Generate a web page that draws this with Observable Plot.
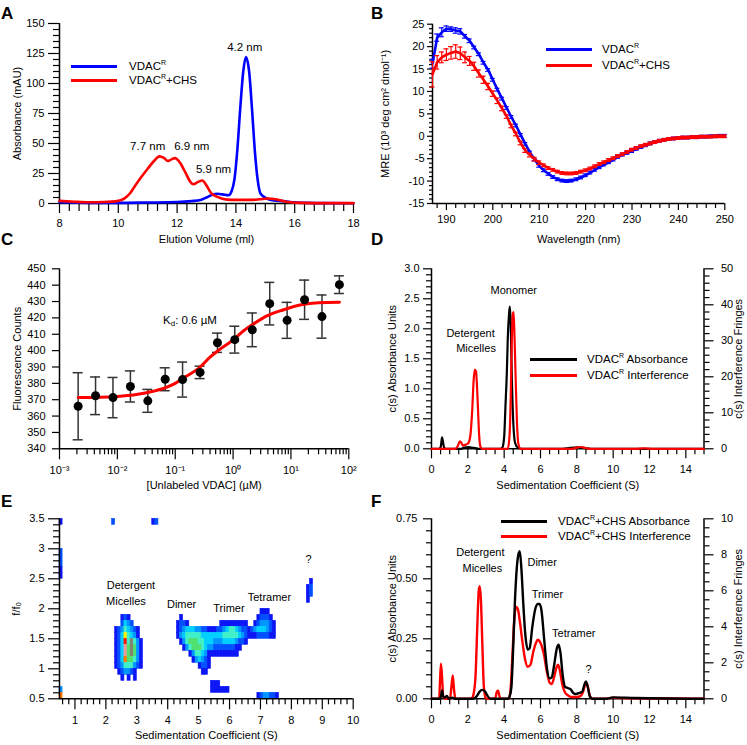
<!DOCTYPE html>
<html><head><meta charset="utf-8">
<script src="https://cdn.jsdelivr.net/npm/d3@7"></script>
<script src="https://cdn.jsdelivr.net/npm/@observablehq/plot@0.6"></script>
<style>
body{margin:0;background:#fff;}
#fig{position:relative;width:747px;height:745px;font-family:"Liberation Sans",Arial,sans-serif;color:#000;overflow:hidden;background:#fff;}
.panel{position:absolute;}
.letter{position:absolute;font-weight:bold;font-size:17px;line-height:1;}
.leg{position:absolute;font-size:11.5px;line-height:14px;white-space:nowrap;}
.sw{position:absolute;height:3px;}
sup{font-size:7px;vertical-align:5px;line-height:0;}
sub{font-size:8px;vertical-align:-2px;line-height:0;}
</style></head>
<body><div id="fig"></div>
<script>
// ================= DATA =================
// Panel A: size-exclusion chromatograms (elution volume ml, absorbance mAU)
const aVdacR = [[8,1.0],[9,0.5],[10,0.5],[11,0.8],[12,1.2],[12.5,2],[12.8,3],[13.0,5],[13.2,7.3],[13.37,8.1],[13.55,7.6],[13.75,6.9],[13.85,10],[13.95,20],[14.05,45],[14.15,80],[14.25,110],[14.34,122],[14.45,110],[14.55,78],[14.65,42],[14.75,18],[14.84,8.1],[15.07,3.9],[15.3,2.5],[15.6,2],[16,1],[16.5,0.5],[17,0.3],[18,0.2]];
const aVdacRChs = [[8,2.2],[8.5,1.5],[9,1],[9.5,1.2],[10,2.2],[10.2,4],[10.4,8.5],[10.55,14],[10.75,21],[11.0,29],[11.2,35],[11.4,39.3],[11.55,38],[11.69,35.4],[11.82,37],[11.93,37.8],[12.1,34],[12.3,25],[12.45,18],[12.55,16],[12.7,17.8],[12.86,19.2],[13.0,15],[13.15,9],[13.37,5.5],[13.7,3.2],[14.0,3],[14.5,3],[14.8,3.5],[15.07,4.2],[15.4,3.3],[15.7,1.5],[16.2,0.5],[17,0.3],[18,0.3]];
const aPeakLabels = [[14.30,130,"4.2 nm"],[11.0,47.6,"7.7 nm"],[12.5,47.6,"6.9 nm"],[13.24,28.4,"5.9 nm"]];

// Panel B: CD spectra (wavelength nm, MRE, error)
const bWavelength = [187,188,189,190,191,192,193,194,195,196,197,198,199,200,201,202,203,204,205,206,207,208,209,210,211,212,213,214,215,216,217,218,219,220,221,222,223,224,225,226,227,228,229,230,231,232,233,234,235,236,237,238,239,240,241,242,243,244,245,246,247,248,249,250];
const bVdacR = [16.2,22,23.2,24,23.9,23.6,23.4,22.3,21.3,19.8,18.3,16.4,14.8,12.6,10.4,8.4,6.3,4.3,2.4,0.3,-1.7,-3.6,-5.2,-6.6,-7.6,-8.4,-9.1,-9.6,-9.9,-10,-9.9,-9.6,-9.2,-8.7,-8.1,-7.5,-6.9,-6.3,-5.8,-5.2,-4.6,-4.1,-3.7,-3.3,-2.8,-2.4,-2.0,-1.6,-1.3,-1.0,-0.8,-0.6,-0.5,-0.4,-0.3,-0.3,-0.2,-0.2,-0.1,-0.1,0,0,0.1,0.1];
const bVdacRErr = [1.0,0.8,1.0,0.6,0.5,0.6,0.6,0.4,0.4,0.3,0.3,0.3,0.3,0.3,0.3,0.3,0.3,0.3,0.3,0.3,0.3,0.3,0.3,0.3,0.3,0.3,0.3,0.3,0.3,0.3,0.3,0.3,0.3,0.3,0.3,0.3,0.3,0.3,0.3,0.3,0.3,0.3,0.3,0.3,0.3,0.3,0.3,0.3,0.3,0.3,0.3,0.3,0.3,0.3,0.3,0.3,0.3,0.3,0.3,0.3,0.3,0.3,0.3,0.3];
const bVdacRChs = [13.8,16.5,17.6,18.2,18.6,18.9,18.5,17.6,16.8,15.6,14.0,12.6,11.1,9.5,7.9,6.2,4.4,2.3,0.5,-1.5,-3.2,-4.2,-5.1,-5.9,-6.5,-7.1,-7.5,-7.9,-8.2,-8.3,-8.3,-8.2,-7.9,-7.6,-7.2,-6.7,-6.2,-5.8,-5.3,-4.9,-4.4,-4.0,-3.5,-3.0,-2.6,-2.2,-1.9,-1.6,-1.3,-1.0,-0.8,-0.6,-0.5,-0.4,-0.3,-0.3,-0.2,-0.2,-0.1,-0.1,-0.1,0,0,0];
const bVdacRChsErr = [2.8,1.5,1.2,1.3,1.4,1.5,1.4,1.2,1.0,0.9,0.8,0.8,0.7,0.6,0.6,0.5,0.4,0.4,0.4,0.4,0.4,0.4,0.4,0.4,0.3,0.3,0.3,0.3,0.3,0.3,0.3,0.3,0.3,0.3,0.3,0.3,0.3,0.3,0.3,0.3,0.3,0.3,0.3,0.3,0.3,0.3,0.3,0.3,0.3,0.3,0.3,0.3,0.3,0.3,0.3,0.3,0.3,0.3,0.3,0.3,0.3,0.3,0.3,0.3];

// Panel C: binding titration ([unlabeled VDAC] µM, fluorescence counts, error)
const cConc = [0.0021,0.0042,0.0084,0.0168,0.0336,0.0671,0.134,0.269,0.537,1.07,2.15,4.30,8.59,17.2,34.4,68.8];
const cCounts = [366.0,372.4,371.3,378.1,369.3,382.5,382.3,386.7,404.8,406.7,412.7,428.7,418.5,431.1,420.8,440.3];
const cErr = [20.5,11.5,12.3,9.5,7.0,7.0,10.7,3.8,5.9,8.2,10.3,13.0,11.0,12.0,13.2,5.4];
const cFitConc = [0.0021,0.005,0.01,0.02,0.04,0.07,0.1,0.15,0.25,0.4,0.6,1.0,1.5,2.3,4,7.5,15,30,68.8];
const cFitCounts = [371.3,371.5,372,373,375,377.5,380,384,389,396,401,406.5,412,416.5,421.5,425,428,429.2,429.5];
const cTickLabels = ["10\u207B\u00B3","10\u207B\u00B2","10\u207B\u00B9","10\u2070","10\u00B9","10\u00B2"];

// Panel D: c(s) of VDAC^R (S, absorbance units) and (S, fringes)
const dAbs = [[0,0],[0.45,0],[0.52,0.05],[0.58,0.19],[0.64,0.1],[0.7,0.01],[0.8,0],[1.6,0],[1.8,0.02],[2.0,0.03],[2.2,0.02],[2.4,0.01],[2.6,0],[3.8,0],[3.9,0.02],[4.0,0.2],[4.07,0.7],[4.15,1.3],[4.2,1.85],[4.27,2.25],[4.31,2.37],[4.36,2.1],[4.42,1.2],[4.5,0.45],[4.6,0.1],[4.75,0.02],[5.0,0],[7.2,0],[7.6,0.015],[8.0,0.025],[8.4,0.015],[8.8,0],[15,0]];
const dFringes = [[0,0],[1.3,0],[1.45,0.8],[1.56,2.1],[1.65,1.6],[1.72,0.9],[1.85,1.1],[2.0,1.4],[2.12,3],[2.24,10.6],[2.32,19],[2.38,22],[2.45,21.5],[2.5,18],[2.56,11],[2.62,4],[2.7,0.5],[2.8,0],[4.2,0],[4.3,4],[4.36,14],[4.42,30],[4.48,37.5],[4.52,38],[4.57,31],[4.63,20],[4.7,8],[4.78,1.5],[4.9,0],[7.7,0],[8.2,0.5],[8.7,0],[11.2,0],[11.7,0.15],[12.2,0],[15,0]];
const dLabels = [[4.53,2.64,"Monomer"],[2.15,1.92,"Detergent"],[2.45,1.67,"Micelles"]];

// Panel E: 2DSA distribution (rows of cells: f/f0 lower edge, first s, intensity codes per 0.1 S)
const eRows = [
  [3.4,0.5,"1"],[3.4,2.2,"2"],[3.4,3.5,"12"],
  [2.9,0.5,"2"],[2.8,0.5,"2"],[2.7,0.5,"2"],[2.6,0.5,"1"],[2.5,0.5,"1"],
  [2.4,8.6,"1"],[2.3,8.5,"12"],[2.2,8.5,"12"],[2.1,8.5,"1"],
  [1.9,7.0,"111"],
  [1.8,2.3,"  121"],[1.8,4.4,"1"],[1.8,6.9,"12221"],
  [1.7,2.3,"  2432"],[1.7,4.3,"1221"],[1.7,5.7,"111111111"],[1.7,6.8,"1233321"],
  [1.6,2.3,"12354321"],[1.6,4.3,"12344433221112234554322123444321"],
  [1.5,2.3,"12475431"],[1.5,4.3,"13455555444444455555432111222211"],
  [1.4,2.3,"12485g531"],[1.4,4.4,"1356665544433344443221"],
  [1.3,2.3,"12496g631"],[1.3,4.5,"1356665433222222211"],
  [1.2,2.3,"12496g631"],[1.2,4.7,"1355431111111111"],
  [1.1,2.3,"124o66531"],[1.1,4.8,"134321"],
  [1.0,2.3,"123555321"],[1.0,5.0,"1221"],
  [0.9,2.3," 123321"],[0.9,5.1,"11"],
  [0.8,2.3,"  1 1 1"],
  [0.7,5.4,"111"],
  [0.6,0.5,"3"],[0.6,5.4,"111111"],
  [0.5,0.5,"o"],[0.5,6.9,"1233221"]
];
const eLevels = ["1","2","3","4","5","6","7","8","9","g","o"];
const eColors = ["#0a14f5","#0050ff","#0096ff","#00d0ff","#40f0c8","#50e070","#f8f000","#ff1400","#e89898","#807f70","#ff7800"];
const eLabels = [[2.81,2.39,"Detergent"],[2.65,2.13,"Micelles"],[4.45,2.07,"Dimer"],[5.98,2.01,"Trimer"],[7.29,2.19,"Tetramer"],[8.56,2.82,"?"]];

// Panel F: c(s) of VDAC^R+CHS
const fAbs = [[0,0],[0.45,0],[0.52,0.01],[0.58,0.035],[0.64,0.01],[0.72,0.005],[0.85,0.012],[0.95,0],[1.15,0.005],[1.3,0],[2.3,0],[2.5,0.012],[2.65,0.03],[2.8,0.037],[2.95,0.03],[3.1,0.01],[3.25,0],[4.2,0],[4.3,0.01],[4.4,0.05],[4.5,0.22],[4.6,0.42],[4.7,0.55],[4.78,0.6],[4.86,0.615],[4.95,0.54],[5.05,0.4],[5.15,0.28],[5.3,0.205],[5.4,0.21],[5.55,0.3],[5.7,0.37],[5.85,0.395],[5.95,0.395],[6.05,0.37],[6.2,0.25],[6.35,0.13],[6.5,0.085],[6.62,0.09],[6.75,0.14],[6.9,0.21],[7.0,0.225],[7.1,0.19],[7.22,0.1],[7.35,0.05],[7.5,0.045],[7.65,0.04],[7.8,0.025],[7.95,0.02],[8.15,0.025],[8.3,0.03],[8.42,0.06],[8.5,0.072],[8.6,0.05],[8.72,0.01],[8.85,0],[9.6,0],[10,0.006],[11,0.004],[12,0.002],[15,0]];
const fFringes = [[0,0],[0.42,0],[0.47,1.0],[0.52,1.95],[0.58,1.2],[0.65,0.1],[0.75,0],[1.02,0],[1.1,0.7],[1.17,1.3],[1.24,0.5],[1.32,0],[2.2,0],[2.3,0.2],[2.42,1.2],[2.52,4],[2.6,6.0],[2.66,6.25],[2.72,5.5],[2.8,3],[2.88,0.7],[2.98,0.05],[3.1,0],[3.5,0],[3.6,0.4],[3.67,0.45],[3.75,0.1],[3.85,0],[4.25,0],[4.35,0.5],[4.45,2.3],[4.55,4.3],[4.65,5.1],[4.75,5.0],[4.85,4.4],[5.0,3.2],[5.15,2.2],[5.3,1.78],[5.45,1.9],[5.6,2.6],[5.75,3.1],[5.85,3.28],[6.0,3.1],[6.2,2.4],[6.35,1.5],[6.5,0.9],[6.62,0.82],[6.75,1.2],[6.88,1.75],[6.97,1.9],[7.08,1.5],[7.2,0.8],[7.35,0.35],[7.5,0.2],[7.7,0.1],[8.0,0.1],[8.2,0.15],[8.35,0.4],[8.5,0.89],[8.6,0.7],[8.7,0.2],[8.85,0],[9.5,0],[9.9,0.05],[11,0.03],[15,0]];
const fLabels = [[2.69,0.608,"Detergent"],[2.80,0.544,"Micelles"],[6.09,0.569,"Dimer"],[6.38,0.433,"Trimer"],[7.83,0.271,"Tetramer"],[8.64,0.121,"?"]];

// ================= HELPERS =================
const FONT = '"Liberation Sans", Arial, sans-serif';
const fig = document.getElementById("fig");
function place(node, left, top){const d=document.createElement("div");d.className="panel";d.style.left=left+"px";d.style.top=top+"px";d.appendChild(node);fig.appendChild(d);}
function seq(a,b,step){const o=[];for(let i=0;a+i*step<=b+1e-9;i++)o.push(+(a+i*step).toFixed(6));return o;}
function minus(all,maj){return all.filter(v=>!maj.some(m=>Math.abs(m-v)<1e-6));}
const pairs = (arr,k1,k2)=>arr.map(([a,b])=>({[k1]:a,[k2]:b}));
function base(w,h,m){return {width:w,height:h,marginTop:m[0],marginRight:m[1],marginBottom:m[2],marginLeft:m[3],style:{fontFamily:FONT,fontSize:"11px",background:"white",color:"black"}};}
function xAx(maj,min,fmt,o={}){return [
  Plot.axisX({ticks:min,tickSize:o.minor??6,tickFormat:()=>"",label:null,strokeWidth:1.2}),
  Plot.axisX({ticks:maj,tickSize:o.major??10,tickPadding:o.pad??6,tickFormat:fmt,label:null,strokeWidth:1.2,fontSize:11})];}
function yAx(maj,min,fmt,o={}){return [
  Plot.axisY({anchor:o.anchor??"left",ticks:min,tickSize:o.minor??5,tickFormat:()=>"",label:null,strokeWidth:1.2}),
  Plot.axisY({anchor:o.anchor??"left",ticks:maj,tickSize:o.major??9,tickPadding:o.pad??4,tickFormat:fmt,label:null,strokeWidth:1.2,fontSize:11})];}
function xTitle(t,dy=39){return Plot.text([t],{text:d=>d,frameAnchor:"bottom",textAnchor:"middle",dy,fontSize:11});}
function yTitle(t,dx,anchor="left"){return Plot.text([t],{text:d=>d,frameAnchor:anchor,textAnchor:"middle",rotate:-90,dx,fontSize:11});}
function letter(ch,left,top){const d=document.createElement("div");d.className="letter";d.textContent=ch;d.style.left=left+"px";d.style.top=top+"px";fig.appendChild(d);}
function legend(lineLeft,lineRight,textLeft,rows){rows.forEach(r=>{const s=document.createElement("div");s.className="sw";s.style.left=lineLeft+"px";s.style.width=(lineRight-lineLeft)+"px";s.style.top=(r.y-1.5)+"px";s.style.background=r.color;fig.appendChild(s);
  const t=document.createElement("div");t.className="leg";t.style.left=textLeft+"px";t.style.top=(r.y-7)+"px";t.innerHTML=r.html;fig.appendChild(t);});}

// ================= PANEL A =================
{
  const blue=pairs(aVdacR,"v","a"), red=pairs(aVdacRChs,"v","a");
  const lab=aPeakLabels.map(([v,a,t])=>({v,a,t}));
  const p=Plot.plot({...base(370,250,[23,17,47,59]),
    x:{domain:[8,18]}, y:{domain:[0,150]},
    marks:[
      ...xAx(seq(8,18,2),minus(seq(8,18,1/3),seq(8,18,2)),d=>d,{major:10,minor:8,pad:6}),
      ...yAx(seq(0,150,25),minus(seq(0,150,5),seq(0,150,25)),d=>d,{major:11,minor:6,pad:4}),
      Plot.ruleX([8],{strokeWidth:1.5}), Plot.ruleY([0],{strokeWidth:1.5}),
      Plot.line(blue,{x:"v",y:"a",stroke:"#0000ff",strokeWidth:2.6,curve:"monotone-x"}),
      Plot.line(red,{x:"v",y:"a",stroke:"#ff0000",strokeWidth:2.6,curve:"monotone-x"}),
      Plot.text(lab,{x:"v",y:"a",text:"t",fontSize:11.5}),
      xTitle("Elution Volume (ml)",39), yTitle("Absorbance (mAU)",-42)
    ]});
  place(p,0,0);
  letter("A",1,5);
  legend(71,117,129,[{y:66,color:"#0000ff",html:"VDAC<sup>R</sup>"},{y:80,color:"#ff0000",html:"VDAC<sup>R</sup>+CHS"}]);
}

// ================= PANEL B =================
{
  const blue=bWavelength.map((w,i)=>({w,m:bVdacR[i],e:bVdacRErr[i]}));
  const red=bWavelength.map((w,i)=>({w,m:bVdacRChs[i],e:bVdacRChsErr[i]}));
  const err=(data,color)=>[
    Plot.ruleX(data,{x:"w",y1:d=>d.m-d.e,y2:d=>d.m+d.e,stroke:color,strokeWidth:1.2}),
    Plot.ruleY(data,{y:d=>d.m+d.e,x1:"w",x2:"w",insetLeft:-2.5,insetRight:-2.5,stroke:color,strokeWidth:1.2}),
    Plot.ruleY(data,{y:d=>d.m-d.e,x1:"w",x2:"w",insetLeft:-2.5,insetRight:-2.5,stroke:color,strokeWidth:1.2})];
  const p=Plot.plot({...base(377,250,[23.7,22.7,47,62]),
    x:{domain:[187,250]}, y:{domain:[-15,25]},
    marks:[
      ...xAx(seq(190,250,10),minus(seq(188,250,2),seq(190,250,10)),d=>d,{major:7,minor:5,pad:5}),
      ...yAx(seq(-15,25,5),minus(seq(-15,25,1),seq(-15,25,5)),d=>d<0?"-"+Math.abs(d):d,{major:5,minor:3,pad:3}),
      Plot.ruleX([187],{strokeWidth:1.5}), Plot.ruleY([-15],{strokeWidth:1.5}),
      ...err(blue,"#0000ff"),
      Plot.line(blue,{x:"w",y:"m",stroke:"#0000ff",strokeWidth:2.6}),
      ...err(red,"#ff0000"),
      Plot.line(red,{x:"w",y:"m",stroke:"#ff0000",strokeWidth:2.6}),
      xTitle("Wavelength (nm)",39), yTitle("MRE (10\u00B3 deg cm\u00B2 dmol\u207B\u00B9)",-47)
    ]});
  place(p,370,0);
  letter("B",371,5);
  legend(546,592,602,[{y:49,color:"#0000ff",html:"VDAC<sup>R</sup>"},{y:65,color:"#ff0000",html:"VDAC<sup>R</sup>+CHS"}]);
}

// ================= PANEL C =================
{
  const pts=cConc.map((c,i)=>({c,f:cCounts[i],e:cErr[i]}));
  const fit=cFitConc.map((c,i)=>({c,f:cFitCounts[i]}));
  const decades=[1e-3,1e-2,1e-1,1,10,100];
  const minor=[];decades.slice(0,5).forEach(d=>[2,3,4,5,6,7,8,9].forEach(k=>minor.push(d*k)));
  const p=Plot.plot({...base(370,250,[23.3,21.7,46.7,59]),
    x:{type:"log",domain:[1e-3,1e2]}, y:{domain:[340,450]},
    marks:[
      ...xAx(decades,minor,d=>cTickLabels[Math.round(Math.log10(d))+3],{major:11,minor:6,pad:6}),
      ...yAx(seq(340,450,10),[],d=>d,{major:7,pad:7}),
      Plot.ruleX([1e-3],{strokeWidth:1.5}), Plot.ruleY([340],{strokeWidth:1.5}),
      Plot.ruleX(pts,{x:"c",y1:d=>d.f-d.e,y2:d=>d.f+d.e,stroke:"#333",strokeWidth:1.5}),
      Plot.ruleY(pts,{y:d=>d.f+d.e,x1:"c",x2:"c",insetLeft:-5,insetRight:-5,stroke:"#333",strokeWidth:1.5}),
      Plot.ruleY(pts,{y:d=>d.f-d.e,x1:"c",x2:"c",insetLeft:-5,insetRight:-5,stroke:"#333",strokeWidth:1.5}),
      Plot.line(fit,{x:"c",y:"f",stroke:"#ff0000",strokeWidth:3,curve:"monotone-x"}),
      Plot.dot(pts,{x:"c",y:"f",r:4.5,fill:"black"}),
      xTitle("[Unlabeled VDAC] (\u00B5M)",40), yTitle("Fluorescence Counts",-42)
    ]});
  place(p,0,245);
  letter("C",1,231);
  const k=document.createElement("div");k.className="leg";k.style.left="163px";k.style.top="313px";k.innerHTML="K<sub>d</sub>: 0.6 \u00B5M";fig.appendChild(k);
}

// ================= PANEL D =================
{
  const s=3/50;
  const abs=pairs(dAbs,"s","c"), intf=dFringes.map(([x,f])=>({s:x,c:f*s}));
  const lab=dLabels.map(([x,y,t])=>({x,y,t}));
  const p=Plot.plot({...base(377,250,[23.3,43.5,46.7,61]),
    x:{domain:[0,15]}, y:{domain:[0,3]},
    marks:[
      ...xAx(seq(0,14,2),minus(seq(0,15,0.5),seq(0,14,2)),d=>d,{major:10,minor:6,pad:6}),
      ...yAx(seq(0,3,0.5),minus(seq(0,3,0.1),seq(0,3,0.5)),d=>d.toFixed(1),{major:8,minor:5,pad:4}),
      ...yAx(seq(0,50,10).map(v=>v*s),minus(seq(0,50,2),seq(0,50,10)).map(v=>v*s),d=>Math.round(d/s),{anchor:"right",major:9,minor:5,pad:8}),
      Plot.ruleX([0],{strokeWidth:1.5}), Plot.ruleX([15],{strokeWidth:1.5}), Plot.ruleY([0],{strokeWidth:1.5}),
      Plot.line(abs,{x:"s",y:"c",stroke:"black",strokeWidth:2.2,curve:"monotone-x"}),
      Plot.line(intf,{x:"s",y:"c",stroke:"#ff0000",strokeWidth:2.2,curve:"monotone-x"}),
      Plot.text(lab,{x:"x",y:"y",text:"t",fontSize:11}),
      xTitle("Sedimentation Coefficient (S)",40), yTitle("c(s) Absorbance Units",-39),
      yTitle("c(s) Interference Fringes",34,"right")
    ]});
  place(p,370,245);
  letter("D",371,231);
  legend(530,577,587,[{y:359,color:"black",html:"VDAC<sup>R</sup> Absorbance"},{y:375,color:"#ff0000",html:"VDAC<sup>R</sup> Interference"}]);
}

// ================= PANEL E =================
{
  const cells=[];
  eRows.forEach(([f,s0,codes])=>{[...codes].forEach((c,i)=>{if(c!==" "){const s=+(s0+i*0.1).toFixed(2);cells.push({s,s2:s+0.1,f,f2:f+0.1,lvl:c});}});});
  const lab=eLabels.map(([x,y,t])=>({x,y,t}));
  const p=Plot.plot({...base(370,250,[23.3,17.3,46.7,59]),
    x:{domain:[0.5,10]}, y:{domain:[0.5,3.5]},
    color:{type:"ordinal",domain:eLevels,range:eColors},
    marks:[
      Plot.rect(cells,{x1:"s",x2:"s2",y1:"f",y2:"f2",fill:"lvl",stroke:"lvl",strokeWidth:0.6}),
      ...xAx(seq(1,10,1),minus(seq(0.6,10,0.2),seq(1,10,1)),d=>d,{major:11,minor:6,pad:6}),
      ...yAx(seq(0.5,3.5,0.5),minus(seq(0.5,3.5,0.1),seq(0.5,3.5,0.5)),d=>d,{major:11,minor:6,pad:4}),
      Plot.ruleX([0.5],{strokeWidth:1.5}), Plot.ruleY([0.5],{strokeWidth:1.5}),
      Plot.text(lab,{x:"x",y:"y",text:"t",fontSize:11}),
      xTitle("Sedimentation Coefficient (S)",40), yTitle("f/f\u2080",-43)
    ]});
  place(p,0,495);
  letter("E",1,493);
}

// ================= PANEL F =================
{
  const s=0.75/10;
  const abs=pairs(fAbs,"s","c"), intf=fFringes.map(([x,f])=>({s:x,c:f*s}));
  const lab=fLabels.map(([x,y,t])=>({x,y,t}));
  const p=Plot.plot({...base(377,250,[23.3,43.5,46.7,61]),
    x:{domain:[0,15]}, y:{domain:[0,0.75]},
    marks:[
      ...xAx(seq(0,14,2),minus(seq(0,15,0.5),seq(0,14,2)),d=>d,{major:10,minor:6,pad:6}),
      ...yAx(seq(0,0.75,0.25),minus(seq(0,0.75,0.05),seq(0,0.75,0.25)),d=>d.toFixed(2),{major:8,minor:5,pad:6}),
      ...yAx(seq(0,10,2).map(v=>v*s),minus(seq(0,10,0.5),seq(0,10,2)).map(v=>v*s),d=>Math.round(d/s),{anchor:"right",major:9,minor:5,pad:8}),
      Plot.ruleX([0],{strokeWidth:1.5}), Plot.ruleX([15],{strokeWidth:1.5}), Plot.ruleY([0],{strokeWidth:1.5}),
      Plot.line(intf,{x:"s",y:"c",stroke:"#ff0000",strokeWidth:2.4,curve:"monotone-x"}),
      Plot.line(abs,{x:"s",y:"c",stroke:"black",strokeWidth:2.4,curve:"monotone-x"}),
      Plot.text(lab,{x:"x",y:"y",text:"t",fontSize:11}),
      xTitle("Sedimentation Coefficient (S)",40), yTitle("c(s) Absorbance Units",-39),
      yTitle("c(s) Interference Fringes",34,"right")
    ]});
  place(p,370,495);
  letter("F",371,493);
  legend(501,547,558,[{y:521,color:"black",html:"VDAC<sup>R</sup>+CHS Absorbance"},{y:536,color:"#ff0000",html:"VDAC<sup>R</sup>+CHS Interference"}]);
}
</script></body></html>
